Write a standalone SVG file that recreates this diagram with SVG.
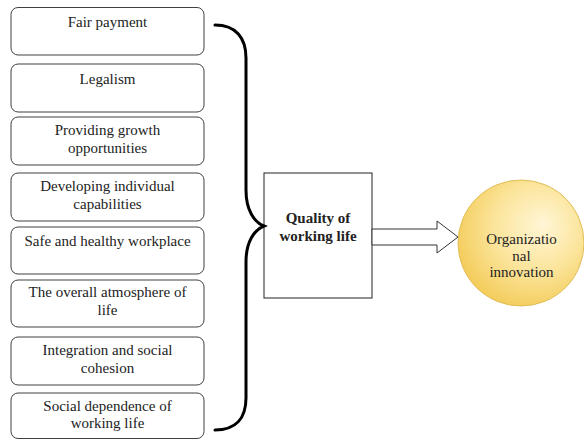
<svg xmlns="http://www.w3.org/2000/svg" width="584" height="440" viewBox="0 0 584 440">
<defs>
<radialGradient id="gold" cx="0.6" cy="0.4" r="0.65" fx="0.68" fy="0.35">
<stop offset="0" stop-color="#fff6d6"/>
<stop offset="0.55" stop-color="#fbe49a"/>
<stop offset="1" stop-color="#f3cb58"/>
</radialGradient>
<style>
.box{fill:#fff;stroke:#404040;stroke-width:1}
.brace{fill:none;stroke:#000;stroke-width:3;stroke-linecap:round}
</style>
</defs>
<rect width="584" height="440" fill="#fff"/>
<g font-family="Times New Roman, Liberation Serif, serif" font-size="15" fill="#222" text-anchor="middle">
<g id="n1"><rect class="box" x="11" y="7.5" width="193" height="47.5" rx="7"/><text x="107.5" y="27">Fair payment</text></g>
<g id="n2"><rect class="box" x="11" y="64" width="193" height="48" rx="7"/><text x="107.5" y="83.5">Legalism</text></g>
<g id="n3"><rect class="box" x="11" y="117" width="193" height="48" rx="7"/><text x="107.5" y="135">Providing growth</text><text x="107.5" y="153">opportunities</text></g>
<g id="n4"><rect class="box" x="11" y="173" width="193" height="48" rx="7"/><text x="107.5" y="191">Developing individual</text><text x="107.5" y="209">capabilities</text></g>
<g id="n5"><rect class="box" x="11" y="227" width="193" height="47" rx="7"/><text x="107.5" y="246">Safe and healthy workplace</text></g>
<g id="n6"><rect class="box" x="11" y="280" width="193" height="47" rx="7"/><text x="107.5" y="297">The overall atmosphere of</text><text x="107.5" y="315">life</text></g>
<g id="n7"><rect class="box" x="11" y="337" width="193" height="48" rx="7"/><text x="107.5" y="355">Integration and social</text><text x="107.5" y="373">cohesion</text></g>
<g id="n8"><rect class="box" x="11" y="393" width="193" height="45.5" rx="7"/><text x="107.5" y="410.5">Social dependence of</text><text x="107.5" y="428">working life</text></g>
<g id="quality"><rect x="264" y="173" width="108" height="125" fill="#fff" stroke="#222" stroke-width="1"/><text font-weight="bold" x="318" y="222.5">Quality of</text><text font-weight="bold" x="318" y="240.5">working life</text></g>
<g id="innovation"><circle cx="521" cy="243" r="63" fill="url(#gold)" stroke="#e0bd55" stroke-width="1"/><text x="521.5" y="244">Organizatio</text><text x="521.5" y="260.5">nal</text><text x="521.5" y="277">innovation</text></g>
</g>
<g id="connectors">
<path class="brace" d="M215,25 C236,25 246,38 246,58 L246,190 C246,210 254,222 264,226 C254,230 246,242 246,262 L246,398 C246,418 236,430 215,430"/>
<polygon points="372,229 437,229 437,221 458,237 437,253 437,245 372,245" fill="#fff" stroke="#333" stroke-width="1"/>
</g>
</svg>
